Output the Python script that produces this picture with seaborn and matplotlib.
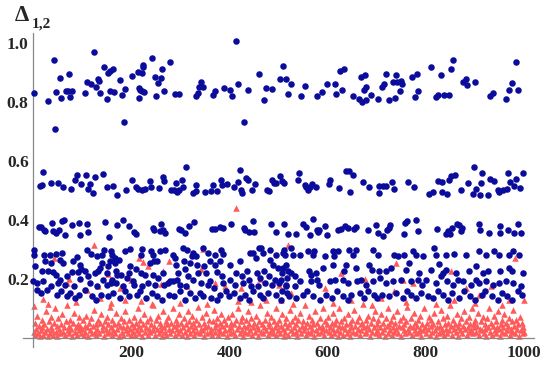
import matplotlib
matplotlib.use("Agg")
import matplotlib.pyplot as plt
import matplotlib.ticker as mticker
import pandas as pd
import seaborn as sns

sns.set_style("white")
plt.rcParams["font.family"] = ["Liberation Serif", "DejaVu Serif"]

# ---------------------------------------------------------------------------
# data: (index, value) pairs
# ---------------------------------------------------------------------------
blue_top = [(2,.831),(31,.805),(43,.943),(45,.708),(47,.835),(55,.882),(57,.815),(67,.838),(72,.838),(74,.895),
            (76,.818),(80,.838),(106,.831),(110,.868),(119,.861),(125,.969),(128,.853),(132,.880),(134,.872),(136,.830),
            (145,.919),(150,.810),(154,.900),(157,.906),(158,.839),(164,.914),(166,.834),(177,.876),(181,.825),(185,.732),
            (187,.844),(201,.888),(215,.902),(216,.848),(217,.815),(219,.842),(222,.900),(223,.837),(224,.926),(225,.918),
            (227,.833),(242,.951),(249,.886),(251,.822),(254,.866),(261,.883),(262,.912),(266,.837),(280,.936),(289,.826),
            (297,.826),(332,.821),(336,.830),(338,.851),(342,.870),(346,.851),(366,.824),(370,.837),(389,.848),(401,.840),
            (405,.822),(413,1.008),(417,.863),(429,.731),(437,.842),(461,.895),(470,.807),(474,.848),(487,.844),(503,.880),
            (510,.923),(515,.879),(519,.826),(526,.863),(545,.820),(555,.854),(579,.820),(589,.836),(599,.862),(615,.863),
            (618,.828),(626,.906),(629,.840),(634,.912),(651,.820),(663,.810),(667,.887),(670,.800),(674,.842),(676,.893),
            (678,.807),(679,.851),(688,.825),(702,.810),(710,.852),(714,.862),(719,.896),(726,.807),(734,.868),(738,.813),
            (739,.892),(742,.868),(748,.838),(750,.872),(752,.862),(771,.887),(777,.818),(781,.895),(785,.838),(811,.921),
            (821,.818),(825,.824),(831,.892),(836,.823),(847,.823),(852,.912),(856,.943),(876,.870),(882,.878),(883,.859),
            (901,.870),(931,.822),(937,.832),(964,.810),(970,.842),(975,.864),(983,.938),(987,.842)]

blue_mid = [(14,.514),(18,.520),(20,.562),(38,.525),(52,.525),(62,.510),(78,.506),(85,.536),(90,.551),(99,.522),
            (109,.554),(113,.506),(116,.523),(123,.491),(127,.545),(142,.555),(152,.512),(163,.515),(171,.485),(190,.503),
            (202,.537),(211,.510),(215,.504),(222,.502),(228,.506),(239,.531),(240,.510),(256,.509),(264,.545),(266,.533),
            (282,.502),(287,.502),(292,.525),(293,.493),(297,.500),(303,.536),(305,.513),(311,.579),(327,.492),(332,.517),
            (333,.498),(351,.493),(362,.497),(367,.517),(375,.499),(384,.536),(386,.517),(396,.521),(409,.511),(417,.527),
            (421,.570),(424,.503),(425,.490),(434,.541),(439,.535),(446,.500),(452,.521),(477,.503),(480,.499),(486,.536),
            (491,.526),(495,.524),(503,.548),(507,.533),(511,.525),(539,.536),(541,.560),(553,.519),(556,.511),(560,.502),
            (565,.510),(568,.522),(577,.511),(602,.522),(604,.537),(624,.509),(638,.566),(643,.565),(646,.493),(652,.552),
            (673,.529),(685,.513),(704,.515),(705,.490),(712,.515),(719,.515),(731,.527),(736,.506),(764,.529),(775,.512),
            (807,.488),(815,.495),(825,.533),(832,.528),(833,.494),(844,.487),(848,.535),(852,.550),(860,.551),(872,.500),
            (886,.526),(896,.488),(897,.580),(902,.504),(910,.486),(912,.526),(914,.558),(926,.483),(931,.540),(939,.531),
            (946,.501),(949,.496),(957,.502),(965,.505),(968,.558),(972,.528),(979,.516),(983,.539),(992,.509),(998,.559)]

blue_38 = [(13,.375),(16,.375),(22,.365),(24,.362),(40,.389),(42,.361),(47,.356),(53,.367),(60,.397),(64,.399),
           (66,.349),(79,.381),(93,.391),(96,.349),(111,.387),(112,.360),(146,.394),(155,.343),(171,.383),(184,.400),
           (196,.379),(206,.360),(211,.352),(245,.373),(247,.367),(258,.363),(260,.386),(264,.364),(270,.356),(298,.370),
           (301,.366),(310,.357),(318,.379),(329,.394),(364,.370),(371,.368),(382,.377),(388,.374),(403,.387),(430,.372),
           (432,.366),(441,.360),(448,.397),(451,.360),(484,.386),(496,.360),(512,.387),(520,.352),(536,.352),(550,.387),
           (557,.375),(564,.349),(571,.402),(579,.364),(580,.358),(583,.367),(594,.378),(599,.347),(622,.364),(627,.370),
           (636,.379),(641,.372),(653,.369),(657,.375),(682,.365),(698,.381),(703,.357),(713,.346),(720,.365),(724,.373),
           (728,.381),(755,.352),(758,.389),(762,.397),(779,.398),(783,.361),(822,.370),(841,.352),(846,.361),(850,.352),
           (854,.372),(863,.387),(868,.384),(871,.361),(874,.372),(909,.387),(911,.366),(929,.357),(950,.378),(951,.357),
           (967,.367),(980,.357),(988,.387),(993,.357)]

blue_low = [(2,.296),(3,.282),(23,.282),(35,.282),(47,.285),(60,.287),(89,.274),(111,.299),(119,.285),(130,.278),
            (140,.282),(145,.296),(160,.293),(162,.282),(167,.270),(187,.293),(197,.301),(223,.301),(221,.282),(241,.293),
            (245,.282),(258,.293),(269,.299),(286,.282),(306,.304),(313,.299),(323,.276),(326,.287),(333,.278),(347,.304),
            (357,.287),(370,.282),(384,.299),(387,.285),(442,.287),(448,.287),(460,.304),(465,.304),(469,.287),(482,.299),
            (496,.282),(509,.287),
            (4,.242),(25,.259),(36,.253),(55,.265),(62,.253),(82,.259),(96,.248),(99,.233),(136,.236),(141,.253),
            (153,.242),(168,.253),(176,.265),(157,.259),(198,.242),(211,.233),(238,.253),(246,.259),(252,.259),(289,.270),
            (292,.248),(307,.259),(319,.253),(334,.248),(348,.242),(360,.259),(371,.248),(380,.259),(401,.248),(421,.259),
            (455,.270),(483,.265),(488,.248),(499,.236),(516,.248),
            (18,.225),(31,.225),(41,.222),(48,.214),(56,.197),(69,.208),(79,.222),(92,.222),(97,.199),(106,.225),
            (113,.208),(126,.219),(133,.225),(150,.219),(143,.197),(161,.197),(169,.225),(172,.214),(180,.214),(191,.202),
            (196,.219),(204,.191),(220,.219),(228,.214),(244,.214),(255,.202),(265,.219),(279,.191),(293,.197),(296,.219),
            (309,.233),(316,.208),(327,.197),(336,.219),(353,.219),(361,.191),(374,.222),(385,.208),(402,.197),(414,.219),
            (425,.208),(435,.225),(441,.197),(456,.219),(462,.202),(470,.225),(481,.208),(492,.197),(508,.219),(517,.202),
            (1,.191),(9,.186),(21,.191),(38,.174),(52,.186),(65,.180),(83,.174),(116,.186),(131,.174),(151,.180),
            (159,.186),(170,.186),(184,.174),(205,.180),(222,.174),(235,.186),(248,.180),(266,.180),(275,.186),(285,.191),
            (299,.180),(312,.176),(343,.186),(356,.180),(369,.169),(388,.186),(411,.180),(428,.186),(445,.176),(458,.174),
            (472,.186),(486,.180),(502,.186),(515,.174),
            (8,.163),(17,.152),(28,.163),(49,.146),(58,.157),(70,.140),(75,.152),(86,.135),(95,.146),(107,.163),
            (120,.140),(129,.129),(139,.146),(154,.140),(164,.152),(177,.135),(188,.157),(195,.140),(212,.146),(219,.157),
            (231,.135),(242,.152),(253,.140),(263,.129),(278,.146),(288,.140),(300,.157),(310,.129),(320,.152),(330,.135),
            (340,.152),(346,.140),(362,.135),(375,.129),(381,.146),(394,.157),(400,.140),(410,.152),(422,.135),(431,.146),
            (440,.129),(449,.157),(463,.146),(468,.135),(479,.152),(495,.146),(506,.129),(518,.152),
            (512,.299),(526,.304),(513,.282),(529,.282),(543,.282),(560,.293),(570,.282),(573,.293),(594,.278),(610,.293),
            (621,.293),(614,.276),(644,.296),(658,.296),(651,.282),(692,.299),(702,.282),(736,.282),(743,.276),(756,.282),
            (773,.293),(780,.282),(794,.278),(817,.304),(821,.282),(841,.282),(858,.285),(882,.282),(909,.293),(922,.282),
            (939,.293),(949,.282),(970,.282),(990,.282),(977,.293),
            (509,.236),(519,.225),(525,.219),(533,.208),(563,.225),(566,.214),(577,.219),(590,.236),(611,.248),(638,.248),
            (634,.225),(657,.236),(685,.248),(691,.231),(705,.225),(719,.225),(729,.236),(760,.231),(766,.253),(787,.219),
            (810,.231),(827,.251),(834,.219),(840,.231),(861,.219),(888,.225),(902,.242),(916,.219),(926,.225),(950,.225),
            (969,.236),(976,.225),(997,.219),
            (505,.197),(516,.180),(534,.174),(544,.191),(567,.191),(578,.197),(583,.180),(604,.191),(615,.197),(631,.197),
            (641,.186),(659,.191),(668,.197),(678,.180),(693,.191),(706,.202),(718,.186),(733,.191),(749,.197),(770,.191),
            (784,.197),(793,.180),(800,.197),(820,.186),(831,.208),(844,.191),(855,.180),(865,.197),(875,.191),(892,.180),
            (903,.197),(908,.186),(923,.191),(936,.180),(948,.186),(963,.191),(978,.186),(994,.174),
            (508,.157),(522,.140),(536,.135),(549,.146),(559,.157),(571,.140),(584,.129),(597,.146),(609,.135),(620,.157),
            (632,.140),(642,.129),(648,.146),(665,.152),(675,.135),(682,.157),(694,.146),(701,.135),(711,.146),(725,.140),
            (739,.152),(753,.135),(761,.157),(769,.146),(779,.135),(790,.152),(804,.140),(814,.135),(824,.157),(835,.146),
            (845,.129),(854,.152),(867,.135),(878,.157),(889,.140),(901,.129),(915,.146),(921,.157),(935,.140),(946,.129),
            (956,.152),(966,.140),(975,.129),(987,.157),(996,.146)]

red_high = [(413,.442),(125,.313),(216,.270),(225,.256),(43,.270),(346,.302),(519,.313),(982,.270),(739,.253),(851,.225),
            (627,.219),(677,.200),(736,.157),(753,.197),(773,.186),(882,.169),(909,.146),(933,.174),(970,.129),(999,.129),
            (505,.129),(526,.152),(594,.169),(648,.129),(709,.135),(858,.129),(2,.109),(20,.131),(69,.186),(74,.200),
            (111,.160),(133,.176),(136,.135),(153,.216),(178,.169),(187,.129),(199,.197),(221,.123),(235,.242),(260,.183),
            (264,.225),(277,.260),(313,.176),(343,.233),(370,.186),(391,.174),(418,.123),(423,.169),(462,.200),(475,.129),
            (501,.180),(30,.115),(88,.120),(160,.118),(245,.112),(300,.118),(355,.115),(445,.120),(530,.115),(610,.118),
            (690,.112),(760,.120),(820,.115),(900,.118),(955,.112)]

red_low = [(2,.02),(4,.05),(5,.01),(7,.03),(9,.075),(10,.015),(12,.04),(14,.005),(16,.025),(18,.06),
           (19,.035),(21,.01),(23,.045),(25,.02),(27,.09),(28,.03),(30,.005),(32,.055),(34,.015),(36,.035),
           (38,.07),(40,.025),(41,.01),(43,.05),(45,.1),(47,.02),(49,.04),(50,.005),(52,.065),(54,.03),
           (56,.015),(58,.045),(60,.08),(62,.02),(63,.035),(65,.01),(67,.055),(69,.11),(71,.025),(73,.04),
           (74,.015),(76,.06),(78,.03),(80,.005),(82,.05),(84,.085),(86,.02),(87,.035),(89,.01),(91,.045),
           (93,.07),(95,.025),(96,.04),(98,.015),
           (100,.03),(102,.06),(104,.01),(106,.04),(107,.02),(109,.075),(111,.035),(113,.005),(115,.05),(117,.025),
           (118,.065),(120,.015),(122,.04),(124,.095),(126,.02),(128,.045),(129,.01),(131,.03),(133,.06),(135,.015),
           (137,.05),(139,.08),(140,.025),(142,.04),(144,.005),(146,.055),(148,.03),(150,.07),(151,.015),(153,.045),
           (155,.02),(157,.105),(159,.035),(161,.01),(162,.06),(164,.025),(166,.045),(168,.015),(170,.085),(172,.03),
           (173,.05),(175,.005),(177,.04),(179,.065),(181,.02),(183,.035),(184,.01),(186,.055),(188,.09),(190,.025),
           (192,.04),(194,.015),(195,.06),(197,.03),(199,.01),
           (201,.045),(203,.02),(205,.07),(206,.035),(208,.01),(210,.05),(212,.025),(214,.1),(216,.04),(217,.015),
           (219,.06),(221,.03),(223,.005),(225,.045),(227,.08),(228,.02),(230,.035),(232,.055),(234,.01),(236,.03),
           (238,.065),(239,.02),(241,.045),(243,.115),(245,.025),(247,.04),(249,.01),(250,.06),(252,.03),(254,.075),
           (256,.015),(258,.05),(260,.025),(261,.04),(263,.005),(265,.09),(267,.035),(269,.02),(271,.055),(272,.01),
           (274,.045),(276,.07),(278,.03),(280,.015),(282,.05),(283,.025),(285,.1),(287,.04),(289,.01),(291,.06),
           (293,.03),(294,.045),(296,.015),(298,.08),
           (300,.025),(302,.05),(304,.01),(305,.035),(307,.065),(309,.02),(311,.045),(313,.005),(315,.09),(316,.03),
           (318,.055),(320,.015),(322,.04),(324,.075),(326,.025),(327,.05),(329,.01),(331,.035),(333,.06),(335,.02),
           (337,.105),(338,.045),(340,.015),(342,.03),(344,.07),(346,.025),(348,.005),(349,.05),(351,.035),(353,.085),
           (355,.015),(357,.04),(359,.06),(360,.02),(362,.03),(364,.01),(366,.055),(368,.095),(370,.035),(371,.02),
           (373,.045),(375,.065),(377,.01),(379,.03),(381,.05),(382,.02),(384,.08),(386,.04),(388,.015),(390,.06),
           (392,.025),(393,.045),(395,.005),(397,.07),(399,.03),
           (401,.015),(403,.05),(404,.035),(406,.08),(408,.02),(410,.045),(412,.01),(414,.06),(415,.03),(417,.1),
           (419,.04),(421,.015),(423,.055),(425,.025),(426,.07),(428,.005),(430,.04),(432,.02),(434,.06),(436,.035),
           (437,.09),(439,.015),(441,.045),(443,.025),(445,.065),(447,.01),(448,.035),(450,.05),(452,.02),(454,.075),
           (456,.04),(458,.005),(459,.03),(461,.055),(463,.11),(465,.02),(467,.045),(469,.015),(470,.035),(472,.06),
           (474,.025),(476,.085),(478,.01),(480,.04),(481,.05),(483,.02),(485,.07),(487,.03),(489,.015),(491,.055),
           (492,.035),(494,.1),(496,.01),(498,.045),
           (500,.025),(502,.06),(503,.015),(505,.04),(507,.08),(509,.03),(511,.005),(513,.05),(514,.02),(516,.065),
           (518,.035),(520,.01),(522,.045),(524,.095),(525,.025),(527,.055),(529,.015),(531,.035),(533,.07),(535,.02),
           (536,.045),(538,.005),(540,.06),(542,.03),(544,.085),(546,.015),(547,.04),(549,.055),(551,.025),(553,.11),
           (555,.035),(557,.01),(558,.05),(560,.02),(562,.075),(564,.04),(566,.015),(568,.06),(569,.03),(571,.045),
           (573,.005),(575,.09),(577,.025),(579,.05),(580,.015),(582,.035),(584,.065),(586,.02),(588,.04),(590,.1),
           (591,.03),(593,.01),(595,.055),(597,.025),(599,.045),
           (601,.07),(602,.02),(604,.035),(606,.01),(608,.05),(610,.085),(612,.03),(613,.015),(615,.045),(617,.06),
           (619,.025),(621,.005),(623,.04),(624,.1),(626,.02),(628,.055),(630,.035),(632,.01),(634,.065),(635,.03),
           (637,.045),(639,.015),(641,.08),(643,.025),(645,.05),(646,.005),(648,.035),(650,.06),(652,.02),(654,.095),
           (656,.04),(657,.015),(659,.055),(661,.03),(663,.07),(665,.01),(667,.045),(668,.025),(670,.05),(672,.115),
           (674,.035),(676,.015),(678,.06),(679,.02),(681,.04),(683,.075),(685,.03),(687,.005),(689,.05),(690,.02),
           (692,.065),(694,.035),(696,.09),(698,.015),
           (700,.045),(701,.025),(703,.06),(705,.01),(707,.035),(709,.08),(711,.02),(712,.05),(714,.03),(716,.005),
           (718,.065),(720,.04),(722,.1),(723,.015),(725,.045),(727,.025),(729,.055),(731,.01),(733,.075),(734,.035),
           (736,.02),(738,.05),(740,.03),(742,.09),(744,.015),(745,.04),(747,.06),(749,.005),(751,.035),(753,.07),
           (755,.025),(756,.045),(758,.015),(760,.055),(762,.105),(764,.03),(766,.02),(767,.04),(769,.065),(771,.01),
           (773,.035),(775,.085),(777,.025),(778,.05),(780,.015),(782,.04),(784,.06),(786,.02),(788,.03),(789,.075),
           (791,.005),(793,.045),(795,.025),(797,.1),(799,.035),
           (800,.015),(802,.05),(804,.03),(806,.07),(808,.01),(810,.04),(811,.06),(813,.02),(815,.045),(817,.085),
           (819,.025),(821,.005),(822,.035),(824,.055),(826,.015),(828,.04),(830,.095),(832,.03),(833,.02),(835,.065),
           (837,.01),(839,.045),(841,.03),(843,.075),(844,.015),(846,.05),(848,.025),(850,.11),(852,.04),(854,.01),
           (855,.06),(857,.03),(859,.045),(861,.02),(863,.08),(865,.035),(866,.005),(868,.05),(870,.025),(872,.065),
           (874,.015),(876,.04),(877,.09),(879,.03),(881,.055),(883,.01),(885,.035),(887,.07),(888,.02),(890,.045),
           (892,.025),(894,.1),(896,.015),(898,.05),(899,.035),
           (901,.06),(903,.02),(905,.04),(907,.085),(909,.01),(910,.03),(912,.055),(914,.025),(916,.07),(918,.015),
           (920,.045),(921,.03),(923,.005),(925,.065),(927,.035),(929,.1),(931,.02),(932,.05),(934,.01),(936,.04),
           (938,.075),(940,.025),(942,.055),(943,.015),(945,.035),(947,.09),(949,.03),(951,.005),(953,.045),(954,.06),
           (956,.02),(958,.035),(960,.08),(962,.015),(964,.05),(965,.025),(967,.04),(969,.065),(971,.01),(973,.03),
           (975,.055),(976,.02),(978,.095),(980,.04),(982,.015),(984,.06),(986,.03),(987,.045),(989,.005),(991,.07),
           (993,.025),(995,.05),(997,.015),(998,.035),(1000,.02)]

x_ticks = [200, 400, 600, 800, 1000]
y_ticks = [0.2, 0.4, 0.6, 0.8, 1.0]

BLUE = "#0b0b9c"
RED = "#ff5a5a"


def to_frame(*parts):
    rows = [p for part in parts for p in part]
    return pd.DataFrame(rows, columns=["i", "delta"])


blue = to_frame(blue_top, blue_mid, blue_38, blue_low)
red = to_frame(red_low, red_high)

fig = plt.figure(figsize=(5.5, 3.66), dpi=100)
ax = fig.add_axes([0.0418, 0.0519, 0.929, 0.858])

sns.scatterplot(data=red, x="i", y="delta", ax=ax, marker="^", color=RED,
                s=22, linewidth=0, zorder=2)
sns.scatterplot(data=blue, x="i", y="delta", ax=ax, marker="o", color=BLUE,
                s=22, linewidth=0, zorder=3)

ax.set_xlim(-20, 1020)
ax.set_ylim(-0.032, 1.035)
ax.set_xlabel("")
ax.set_ylabel("")

# Mathematica-style crossing axes
for side in ("top", "right"):
    ax.spines[side].set_visible(False)
ax.spines["left"].set_position(("data", 0))
ax.spines["bottom"].set_position(("data", 0))
for side in ("left", "bottom"):
    ax.spines[side].set_color("#888888")
    ax.spines[side].set_linewidth(0.9)

ax.set_xticks(x_ticks)
ax.set_yticks(y_ticks)
ax.xaxis.set_minor_locator(mticker.MultipleLocator(50))
ax.yaxis.set_minor_locator(mticker.MultipleLocator(0.04))
ax.yaxis.set_major_formatter(mticker.FormatStrFormatter("%.1f"))
ax.tick_params(which="both", direction="in", color="#888888", width=0.8)
ax.tick_params(which="major", length=4)
ax.tick_params(which="minor", length=2)
ax.tick_params(axis="y", which="major", pad=3)
ax.tick_params(axis="x", which="major", pad=5)
for lab in ax.get_xticklabels() + ax.get_yticklabels():
    lab.set_fontweight("bold")
    lab.set_fontsize(12.5)

fig.text(0.026, 0.943, "Δ", fontsize=16.5, fontweight="bold", va="baseline")
fig.text(0.058, 0.926, "1,2", fontsize=11, fontweight="bold", va="baseline")

fig.savefig("out.png", dpi=100)
